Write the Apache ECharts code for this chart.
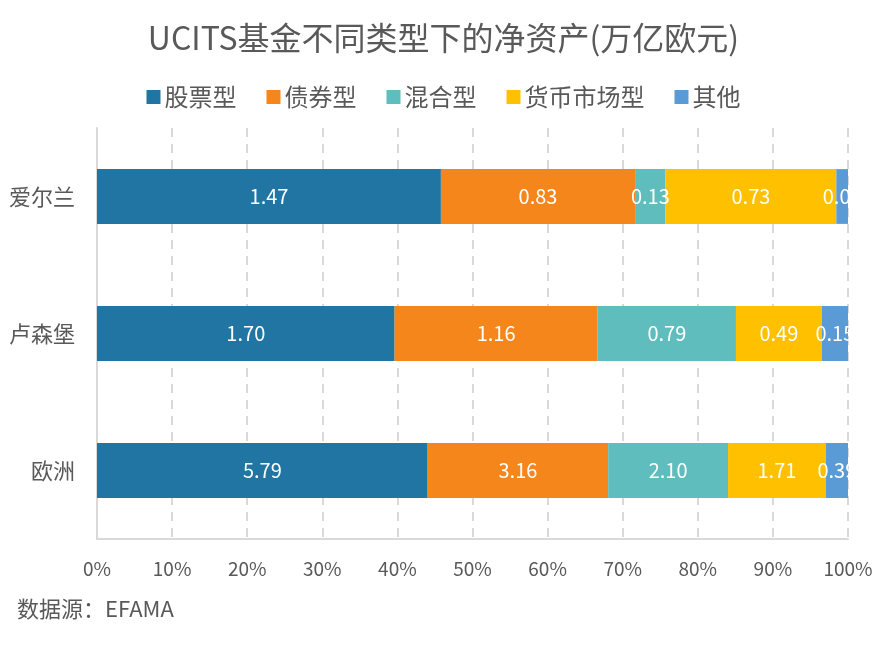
<!DOCTYPE html>
<html><head><meta charset="utf-8">
<script src="https://cdn.jsdelivr.net/npm/echarts@6/dist/echarts.min.js"></script>
<style>html,body{margin:0;padding:0;background:#fff}#c{width:887px;height:646px}</style>
</head><body><div id="c"></div>
<script>
const categories = ['爱尔兰', '卢森堡', '欧洲'];
const seriesNames = ['股票型', '债券型', '混合型', '货币市场型', '其他'];
const equity = [1.47, 1.70, 5.79];
const bond = [0.83, 1.16, 3.16];
const mixed = [0.13, 0.79, 2.10];
const moneyMarket = [0.73, 0.49, 1.71];
const other = [0.05, 0.15, 0.39];
const tickLabels = ['0%','10%','20%','30%','40%','50%','60%','70%','80%','90%','100%'];
const colors = ['#2175A3', '#F5861B', '#5FBDBD', '#FFC000', '#5B9BD5'];

const allSeries = [equity, bond, mixed, moneyMarket, other];
const totals = categories.map((_, i) => allSeries.reduce((s, arr) => s + arr[i], 0));
const font = '"Noto Sans CJK SC", "Noto Sans", sans-serif';

const chart = echarts.init(document.getElementById('c'));
chart.setOption({
  animation: false,
  color: colors,
  textStyle: { fontFamily: font },
  title: {
    text: 'UCITS基金不同类型下的净资产(万亿欧元)',
    left: 'center', top: 17,
    textStyle: { fontSize: 32, fontWeight: 'normal', color: '#595959', fontFamily: font }
  },
  legend: {
    top: 80, left: 'center',
    itemWidth: 14, itemHeight: 14, itemGap: 30,
    icon: 'rect',
    textStyle: { fontSize: 24, color: '#595959', fontFamily: font, padding: [0, 0, 0, -1] },
    data: seriesNames
  },
  graphic: [{
    type: 'text', left: 17, top: 598,
    style: { text: '数据源：EFAMA', fontSize: 22, fill: '#595959', fontFamily: font }
  }],
  grid: { left: 97, right: 39, top: 128, bottom: 107 },
  xAxis: {
    type: 'value', min: 0, max: 1, interval: 0.1,
    axisLine: { show: true, lineStyle: { color: '#d9d9d9', width: 2 } },
    axisTick: { show: false },
    axisLabel: {
      fontSize: 19, color: '#595959', margin: 20, fontFamily: font,
      formatter: v => tickLabels[Math.round(v * 10)]
    },
    splitLine: { show: true, lineStyle: { color: '#d9d9d9', width: 2, type: [9, 7] } }
  },
  yAxis: {
    type: 'category', inverse: true, data: categories,
    axisLine: { show: true, lineStyle: { color: '#d9d9d9', width: 2 } },
    axisTick: { show: false },
    axisLabel: { fontSize: 22, color: '#595959', margin: 22, fontFamily: font }
  },
  series: allSeries.map((arr, si) => ({
    name: seriesNames[si],
    type: 'bar', stack: 'total',
    barCategoryGap: '60%',
    data: arr.map((v, i) => v / totals[i]),
    label: {
      show: true, position: 'inside', color: '#fff', fontSize: 20, fontFamily: font,
      formatter: p => arr[p.dataIndex].toFixed(2)
    }
  }))
});
</script></body></html>
